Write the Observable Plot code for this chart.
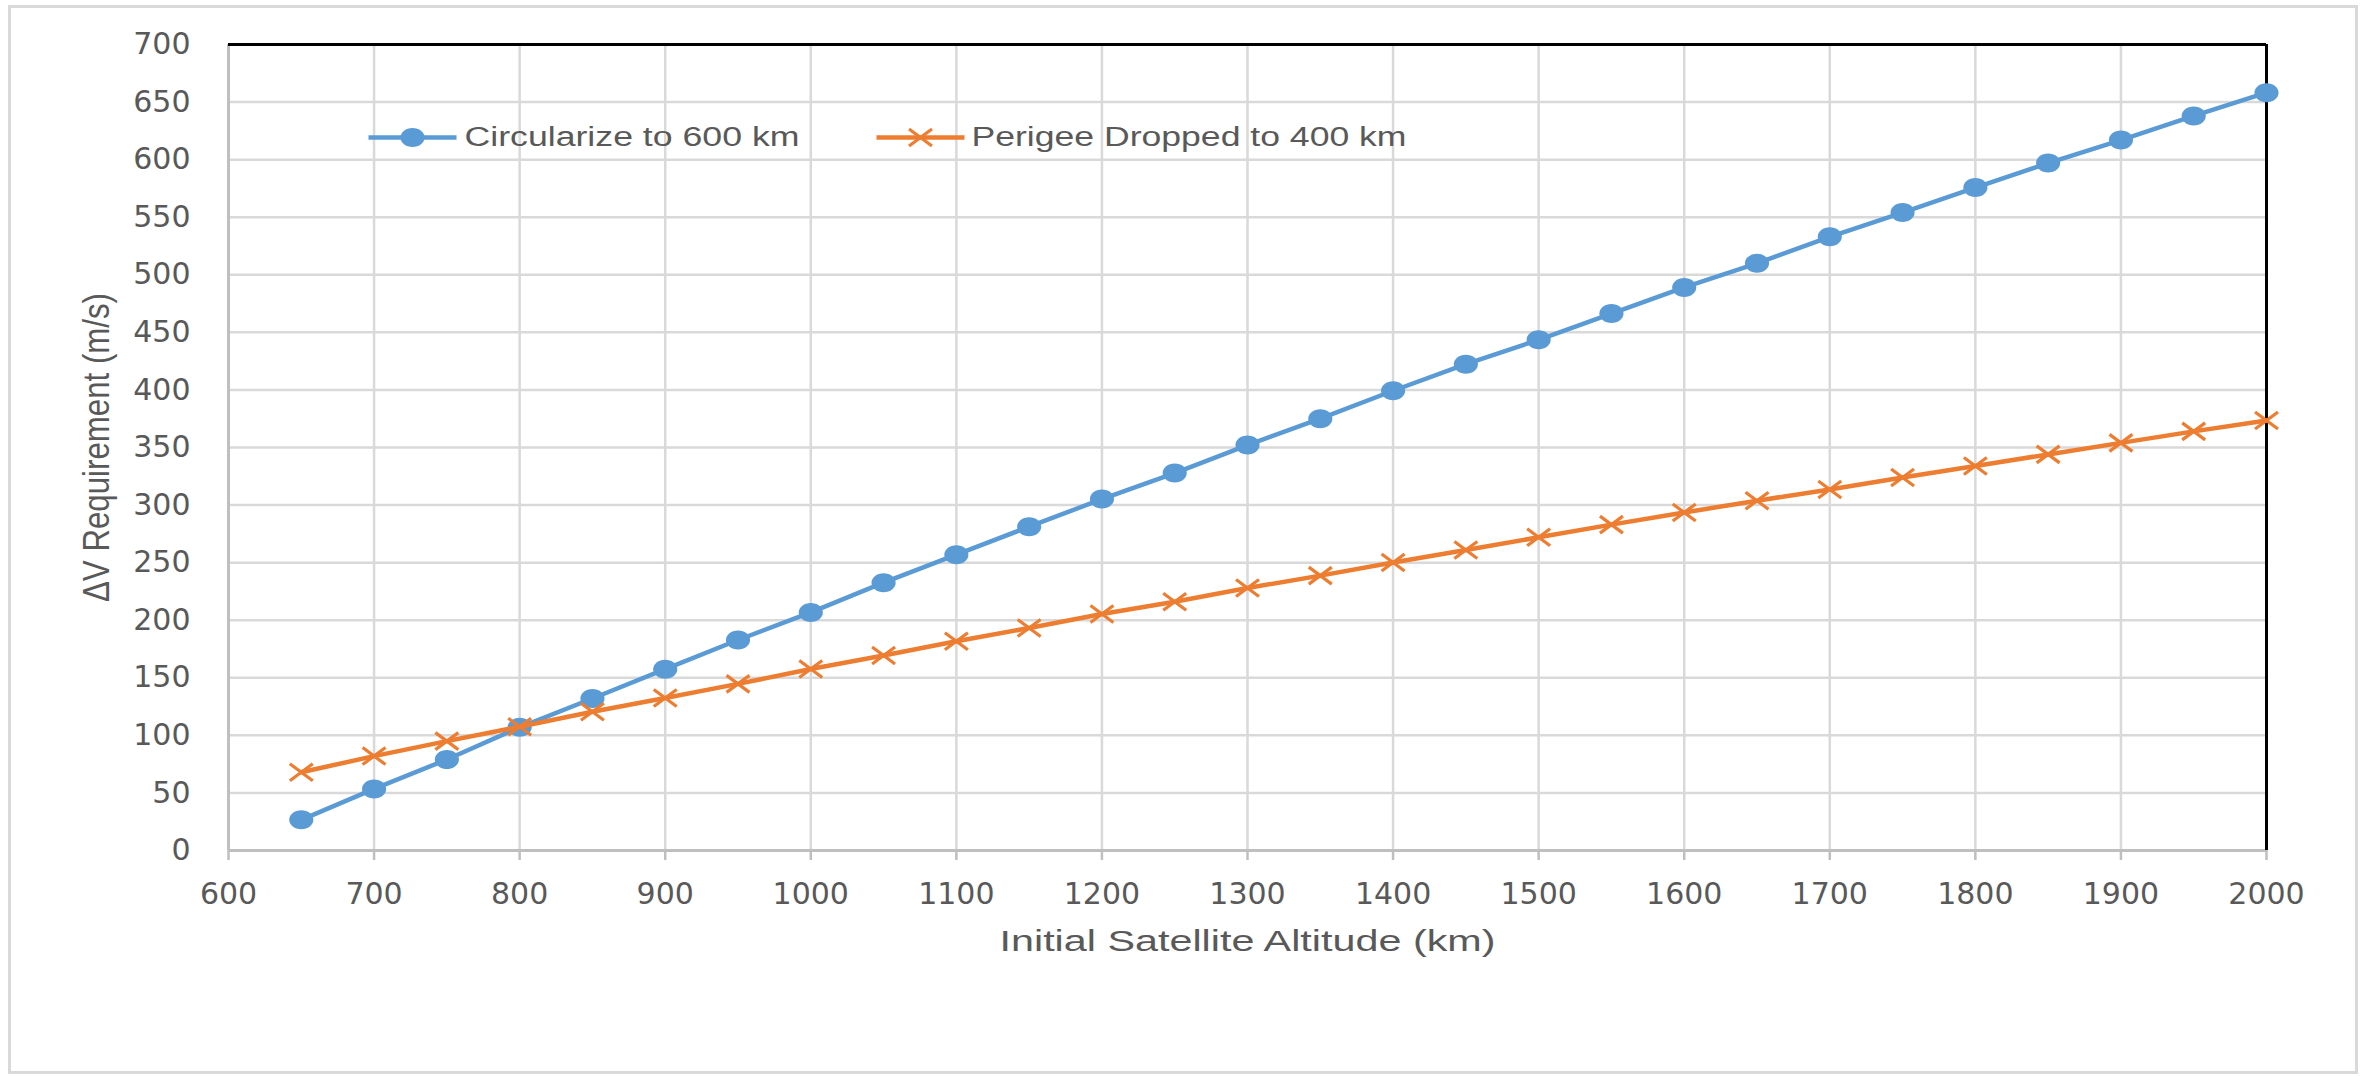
<!DOCTYPE html>
<html>
<head>
<meta charset="utf-8">
<script src="https://cdn.jsdelivr.net/npm/d3@7"></script>
<script src="https://cdn.jsdelivr.net/npm/@observablehq/plot@0.6"></script>
<style>
html, body { margin: 0; padding: 0; background: #fff; }
#wrap { position: relative; width: 2369px; height: 1077px; overflow: hidden; }
#wrap svg { position: absolute; left: 0; top: 0; }
#frame { position: absolute; left: 8px; top: 5px; width: 2344px; height: 1063px; border: 3px solid #d9d9d9; pointer-events: none; }
</style>
</head>
<body>
<div id="wrap"><div id="frame"></div></div>
<script>
// ---- Data ----
const altitudes = [650, 700, 750, 800, 850, 900, 950, 1000, 1050, 1100, 1150, 1200, 1250, 1300,
                   1350, 1400, 1450, 1500, 1550, 1600, 1650, 1700, 1750, 1800, 1850, 1900, 1950, 2000];
const circularize = [26.6, 53.5, 79, 107, 132, 157.5, 182.8, 206.8, 232.6, 256.9, 281.2, 305.2, 327.8, 352.1,
                     375, 399.3, 422.4, 443.5, 466.3, 489, 510, 533, 554, 575.7, 597, 617, 638, 658.2];
const perigee = [68, 82, 95, 107.5, 120.5, 132.4, 144.7, 157.6, 169.3, 181.7, 193.3, 205.4, 216, 228,
                 238.7, 250.2, 261, 272, 283, 293.6, 303.8, 313.6, 324, 334, 344, 354, 364, 373.5];
const seriesNames = ["Circularize to 600 km", "Perigee Dropped to 400 km"];
const xTicks = [600, 700, 800, 900, 1000, 1100, 1200, 1300, 1400, 1500, 1600, 1700, 1800, 1900, 2000];
const yTicks = [0, 50, 100, 150, 200, 250, 300, 350, 400, 450, 500, 550, 600, 650, 700];
const xTitle = "Initial Satellite Altitude (km)";
const yTitle = "ΔV Requirement (m/s)";

// ---- Styling ----
const BLUE = "#5b9bd5", ORANGE = "#ed7d31", TEXT = "#595959", GRID = "#d9d9d9", AXIS = "#bfbfbf";
const TITLE_FONT = "'Liberation Sans', Arial, sans-serif";

// custom symbols (the reference is horizontally stretched)
const ellipse = (aspect) => ({
  draw(ctx, size) {
    const r = Math.sqrt(size / Math.PI), rx = r * aspect, ry = r, k = 0.5523;
    ctx.moveTo(rx, 0);
    ctx.bezierCurveTo(rx, k * ry, k * rx, ry, 0, ry);
    ctx.bezierCurveTo(-k * rx, ry, -rx, k * ry, -rx, 0);
    ctx.bezierCurveTo(-rx, -k * ry, -k * rx, -ry, 0, -ry);
    ctx.bezierCurveTo(k * rx, -ry, rx, -k * ry, rx, 0);
    ctx.closePath();
  }
});
const cross = (aspect) => ({
  draw(ctx, size) {
    const r = Math.sqrt(size / Math.PI), rx = r * aspect, ry = r;
    ctx.moveTo(-rx, -ry); ctx.lineTo(rx, ry);
    ctx.moveTo(-rx, ry); ctx.lineTo(rx, -ry);
  }
});
const hline = {
  draw(ctx, size) {
    const r = Math.sqrt(size / Math.PI);
    ctx.moveTo(-r, 0); ctx.lineTo(r, 0);
  }
};
const dotSym = ellipse(1.27);
const xSym = cross(1.35);

const circRows = altitudes.map((a, i) => ({altitude: a, value: circularize[i]}));
const periRows = altitudes.map((a, i) => ({altitude: a, value: perigee[i]}));

const legendLayout = [
  {dx: 184, textDx: 236, len: 335},
  {dx: 692, textDx: 743, len: 435}
];
const legendDy = 93;

const svg = Plot.plot({
  width: 2369,
  height: 1077,
  marginLeft: 228,
  marginRight: 103,
  marginTop: 44,
  marginBottom: 227,
  style: {fontFamily: "'DejaVu Sans', sans-serif", fontSize: "30px", background: "transparent", color: TEXT},
  x: {domain: [600, 2000]},
  y: {domain: [0, 700]},
  marks: [
    Plot.gridX(xTicks, {stroke: GRID, strokeOpacity: 1, strokeWidth: 2.5}),
    Plot.gridY(yTicks, {stroke: GRID, strokeOpacity: 1, strokeWidth: 2.5}),
    Plot.ruleX([600], {stroke: AXIS, strokeWidth: 3}),
    Plot.ruleY([0], {stroke: AXIS, strokeWidth: 3}),
    Plot.ruleY([700], {stroke: "#000", strokeWidth: 3}),
    Plot.ruleX([2000], {stroke: "#000", strokeWidth: 3}),
    Plot.axisX({ticks: xTicks, tickSize: 10, tickPadding: 22, stroke: AXIS, strokeWidth: 2.5,
                fill: TEXT, fontSize: 30, label: null, tickFormat: d => String(d)}),
    Plot.axisY({ticks: yTicks, tickSize: 0, tickPadding: 38, fill: TEXT, fontSize: 30,
                label: null, tickFormat: d => String(d)}),
    // series
    Plot.line(circRows, {x: "altitude", y: "value", stroke: BLUE, strokeWidth: 4.5}),
    Plot.dot(circRows, {x: "altitude", y: "value", symbol: dotSym, r: 9.5, fill: BLUE, stroke: "none"}),
    Plot.line(periRows, {x: "altitude", y: "value", stroke: ORANGE, strokeWidth: 4.5}),
    Plot.dot(periRows, {x: "altitude", y: "value", symbol: xSym, r: 8.5, fill: "none", stroke: ORANGE, strokeWidth: 3.2}),
    // legend (inside plot, top-left)
    Plot.dot([seriesNames[0]], {frameAnchor: "top-left", dx: legendLayout[0].dx, dy: legendDy, symbol: hline, r: 44, stroke: BLUE, strokeWidth: 4.5, fill: "none"}),
    Plot.dot([seriesNames[0]], {frameAnchor: "top-left", dx: legendLayout[0].dx, dy: legendDy, symbol: dotSym, r: 9.5, fill: BLUE, stroke: "none"}),
    Plot.text([seriesNames[0]], {frameAnchor: "top-left", dx: legendLayout[0].textDx, dy: legendDy, text: d => d, textAnchor: "start", lineAnchor: "middle", fill: TEXT, fontSize: 27, fontFamily: TITLE_FONT}),
    Plot.dot([seriesNames[1]], {frameAnchor: "top-left", dx: legendLayout[1].dx, dy: legendDy, symbol: hline, r: 44, stroke: ORANGE, strokeWidth: 4.5, fill: "none"}),
    Plot.dot([seriesNames[1]], {frameAnchor: "top-left", dx: legendLayout[1].dx, dy: legendDy, symbol: xSym, r: 8.5, fill: "none", stroke: ORANGE, strokeWidth: 3.2}),
    Plot.text([seriesNames[1]], {frameAnchor: "top-left", dx: legendLayout[1].textDx, dy: legendDy, text: d => d, textAnchor: "start", lineAnchor: "middle", fill: TEXT, fontSize: 27, fontFamily: TITLE_FONT}),
    // axis titles
    Plot.text([xTitle], {frameAnchor: "bottom", dy: 91, text: d => d, textAnchor: "middle", lineAnchor: "middle", fill: TEXT, fontSize: 30, fontFamily: TITLE_FONT}),
    Plot.text([yTitle], {frameAnchor: "left", dx: -131, rotate: -90, text: d => d, textAnchor: "middle", lineAnchor: "middle", fill: TEXT, fontSize: 36, fontFamily: TITLE_FONT})
  ]
});

document.getElementById("wrap").prepend(svg);

// stretch titles/legend text to the reference widths (text stays real text)
const lengths = new Map([
  [seriesNames[0], legendLayout[0].len],
  [seriesNames[1], legendLayout[1].len],
  [xTitle, 496],
  [yTitle, 309]
]);
svg.querySelectorAll("text").forEach(t => {
  const L = lengths.get(t.textContent);
  if (L) { t.setAttribute("textLength", L); t.setAttribute("lengthAdjust", "spacingAndGlyphs"); }
});
</script>
</body>
</html>
